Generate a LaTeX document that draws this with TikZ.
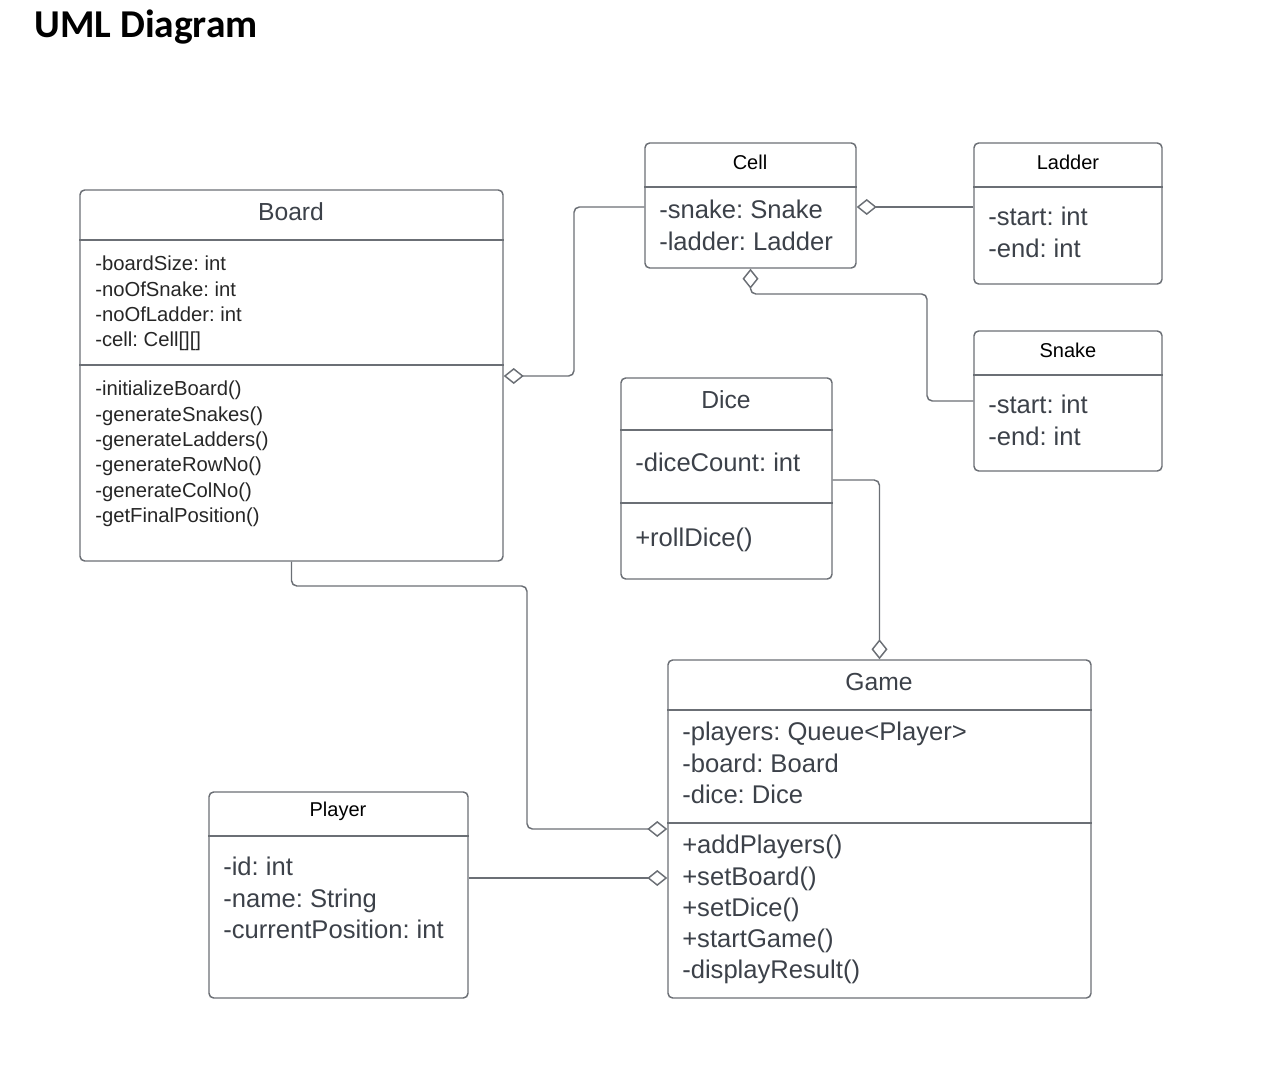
\documentclass[tikz,border=0pt]{standalone}
\usepackage{fontspec}
\setmainfont{Liberation Sans}
\newfontfamily\headfont{Carlito}
\usetikzlibrary{arrows.meta,fit}
\frenchspacing

\definecolor{linegray}{HTML}{6B6F75}
\definecolor{textgray}{HTML}{3C4149}

\tikzset{
  umlbox/.style={draw=linegray, line width=1.1pt, rounded corners=3.5pt, inner sep=0pt},
  divider/.style={draw=linegray, line width=1pt},
  agg/.style={draw=linegray, line width=1.1pt, rounded corners=4pt,
    -{Diamond[open,length=15pt,width=12pt]}},
  classname/.style={inner sep=0pt, text=black, font=\fontsize{15}{18}\selectfont},
  bigname/.style={inner sep=0pt, text=textgray, font=\fontsize{18.5}{22}\selectfont},
  members/.style={anchor=north west, inner sep=0pt, align=left, text=textgray,
    font=\fontsize{19.2}{23.4}\selectfont},
  smallmembers/.style={anchor=north west, inner sep=0pt, align=left, text=black!85,
    font=\fontsize{15.2}{19}\selectfont},
}

\begin{document}
\begin{tikzpicture}[x=0.75pt, y=-0.75pt]
\useasboundingbox (0,0) rectangle (1272,1070);

% title
\node[anchor=base west, inner sep=0pt, font=\headfont\bfseries\fontsize{29.6}{34}\selectfont] (title) at (34,38) {UML Diagram};

% class boxes
\node[umlbox, fit={(80,190) (503,561)}] (board) {};
\node[umlbox, fit={(645,143) (856,268)}] (cell) {};
\node[umlbox, fit={(974,143) (1162,284)}] (ladder) {};
\node[umlbox, fit={(974,331) (1162,471)}] (snake) {};
\node[umlbox, fit={(621,378) (832,579)}] (dice) {};
\node[umlbox, fit={(668,660) (1091,998)}] (game) {};
\node[umlbox, fit={(209,792) (468,998)}] (player) {};

% compartments
\draw[divider] (board.west |- 0,240) -- (board.east |- 0,240);
\draw[divider] (board.west |- 0,365) -- (board.east |- 0,365);
\draw[divider] (cell.west |- 0,187) -- (cell.east |- 0,187);
\draw[divider] (ladder.west |- 0,187) -- (ladder.east |- 0,187);
\draw[divider] (snake.west |- 0,375) -- (snake.east |- 0,375);
\draw[divider] (dice.west |- 0,430) -- (dice.east |- 0,430);
\draw[divider] (dice.west |- 0,503) -- (dice.east |- 0,503);
\draw[divider] (game.west |- 0,710) -- (game.east |- 0,710);
\draw[divider] (game.west |- 0,823) -- (game.east |- 0,823);
\draw[divider] (player.west |- 0,836) -- (player.east |- 0,836);

% Board
\node[bigname] (boardname) at (291,212) {Board};
\node[smallmembers] (boardattr) at (95,256) {-boardSize: int\\-noOfSnake: int\\-noOfLadder: int\\-cell: Cell[][]};
\node[smallmembers] (boardops) at (95,381) {-initializeBoard()\\-generateSnakes()\\-generateLadders()\\-generateRowNo()\\-generateColNo()\\-getFinalPosition()};

% Cell, Ladder, Snake
\node[classname] (cellname) at (750,162) {Cell};
\node[members] (cellattr) at (659,200) {-snake: Snake\\-ladder: Ladder};
\node[classname] (laddername) at (1068,162) {Ladder};
\node[members] (ladderattr) at (988,207) {-start: int\\-end: int};
\node[classname] (snakename) at (1068,350) {Snake};
\node[members] (snakeattr) at (988,395) {-start: int\\-end: int};

% Dice
\node[bigname] (dicename) at (726,400) {Dice};
\node[members] (diceattr) at (635,453) {-diceCount: int};
\node[members] (diceops) at (635,528) {+rollDice()};

% Game
\node[bigname] (gamename) at (879,682) {Game};
\node[members] (gameattr) at (682,722) {-players: Queue<Player>\\-board: Board\\-dice: Dice};
\node[members] (gameops) at (682,835) {+addPlayers()\\+setBoard()\\+setDice()\\+startGame()\\-displayResult()};

% Player
\node[classname] (playername) at (338,811) {Player};
\node[members] (playerattr) at (223,857) {-id: int\\-name: String\\-currentPosition: int};

% aggregations
\draw[agg] (cell.west |- 0,207) -| (574,376) -- (board.east |- 0,376);
\draw[agg] (ladder.west |- 0,207) -- (cell.east |- 0,207);
\draw[agg] (snake.west |- 0,401) -| (927,294) -| (cell.south);
\draw[agg] (dice.east |- 0,480) -| (game.north);
\draw[agg] (board.south) |- (527,586) |- (game.west |- 0,829);
\draw[agg] (player.east |- 0,878) -- (game.west |- 0,878);
\end{tikzpicture}
\end{document}
